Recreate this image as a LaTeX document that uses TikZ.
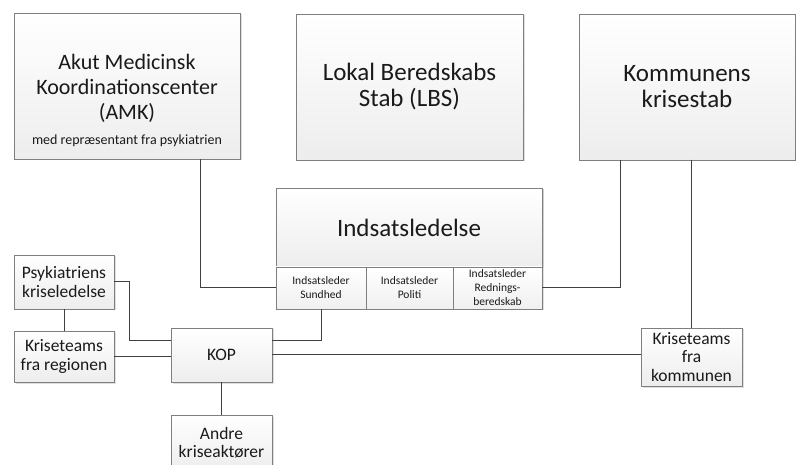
\documentclass[tikz,border=0pt]{standalone}
\usepackage{fontspec}
\setmainfont{Carlito}
\usetikzlibrary{shadows}
\definecolor{edge}{HTML}{7F7F7F}
\definecolor{wirec}{HTML}{404040}
\definecolor{ink}{HTML}{1A1A1A}
\tikzset{
 box/.style={draw=edge, line width=0.9pt, top color=white, bottom color=black!7,
   drop shadow={shadow xshift=1.5pt,shadow yshift=-1.5pt,fill=black!25,opacity=0.5},
   inner sep=0pt, outer sep=0pt, align=center, text=ink},
 cell/.style={draw=edge, line width=0.9pt, top color=white, bottom color=black!6,
   inner sep=0pt, outer sep=0pt, align=center, text=ink, font=\fontsize{11.5}{14}\selectfont},
 big/.style={font=\fontsize{25}{26}\selectfont},
 amkf/.style={font=\fontsize{22}{25}\selectfont},
 mid/.style={font=\fontsize{17.5}{18.5}\selectfont},
 wire/.style={draw=wirec, line width=1pt},
}
\begin{document}
\begin{tikzpicture}[x=1pt,y=-1pt]
\useasboundingbox (0,0) rectangle (796,465);
\clip (0,0) rectangle (796,465);
% top row
\node[box,minimum width=226pt,minimum height=146pt] (amk) at (127,86) {};
\node[amkf,text=ink,align=center,inner sep=0pt] (amkt) at (127,100)
  {Akut Medicinsk\\Koordinationscenter\\(AMK)\\{\fontsize{14}{16}\selectfont med repræsentant fra psykiatrien}};
\node[box,big,minimum width=227pt,minimum height=146pt] (lbs) at (409.5,87) {Lokal Beredskabs\\Stab (LBS)};
\node[box,big,minimum width=216pt,minimum height=146pt] (kom) at (687,87) {Kommunens\\krisestab};
% Indsatsledelse group
\node[fill=white,drop shadow={shadow xshift=1.5pt,shadow yshift=-1.5pt,fill=black!25,opacity=0.5},
  minimum width=266pt,minimum height=121pt,inner sep=0pt,outer sep=0pt] (indgrp) at (409,248.5) {};
\node[box,big,minimum width=266pt,minimum height=79pt] (ind) at (409,227.5) {Indsatsledelse};
\node[cell,minimum width=90pt,minimum height=42pt] (sund) at (321,288) {Indsatsleder\\Sundhed};
\node[cell,minimum width=87pt,minimum height=42pt] (pol) at (409.5,288) {Indsatsleder\\Politi};
\node[cell,minimum width=89pt,minimum height=42pt] (red) at (497.5,288) {Indsatsleder\\Rednings-\\beredskab};
% lower boxes
\node[box,mid,minimum width=100pt,minimum height=54pt] (psyk) at (64,282) {Psykiatriens\\kriseledelse};
\node[box,mid,minimum width=100pt,minimum height=51pt] (krg) at (64,356.5) {Kriseteams\\fra regionen};
\node[box,mid,minimum width=101pt,minimum height=54pt] (kop) at (221.5,355) {KOP};
\node[box,mid,minimum width=101pt,minimum height=55pt] (andre) at (221.5,442.5) {Andre\\kriseaktører};
\node[box,mid,minimum width=101pt,minimum height=58pt] (ktk) at (691.5,357) {Kriseteams\\fra\\kommunen};
% connectors
\draw[wire] ([xshift=73pt]amk.south) |- (sund.west);
\draw[wire] (red.east) -| ([xshift=-67pt]kom.south);
\draw[wire] (kom.south -| ktk.north) -- (ktk.north);
\draw[wire] (sund.south) |- ([yshift=14pt]kop.east);
\draw[wire] (kop.east) -- (kop.east -| ktk.west);
\draw[wire] (psyk.east) -- ++(15,0) |- ([yshift=14pt]kop.west);
\draw[wire] (krg.east) -- (krg.east -| kop.west);
\draw[wire] (psyk.south) -- (krg.north);
\draw[wire] (kop.south) -- (andre.north);
\end{tikzpicture}
\end{document}
